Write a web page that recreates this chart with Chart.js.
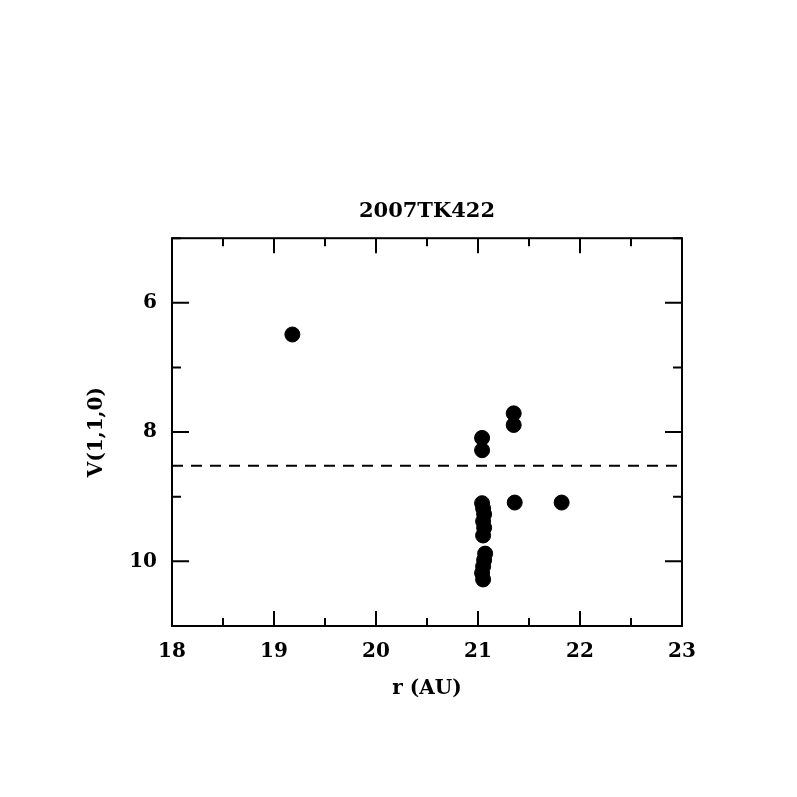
<!DOCTYPE html>
<html>
<head>
<meta charset="utf-8">
<script src="https://cdn.jsdelivr.net/npm/chart.js@4"></script>
<style>
  body { margin: 0; background: #fff; }
  #wrap { width: 797px; height: 797px; }
</style>
</head>
<body>
<div id="wrap"><canvas id="chart" width="797" height="797"></canvas></div>
<script>
// observations: heliocentric distance r (AU) vs V(1,1,0)
const rValues = [19.18, 21.04, 21.04, 21.35, 21.35, 21.36, 21.82,
  21.04, 21.05, 21.06, 21.05, 21.06, 21.05, 21.07, 21.06, 21.05, 21.04, 21.05];
const vValues = [6.49, 8.09, 8.28, 7.71, 7.89, 9.09, 9.09,
  9.1, 9.18, 9.27, 9.38, 9.48, 9.6, 9.88, 9.98, 10.08, 10.18, 10.28];
const meanV = 8.52;
const xTicks = [18, 19, 20, 21, 22, 23];
const yTicks = [6, 8, 10];
const xRange = [18, 23];
const yRange = [5, 11];

const fontFam = '"DejaVu Serif", serif';

const points = rValues.map((r, i) => ({ x: r, y: vValues[i] }));

// frame + inward ticks on all four sides
const framePlugin = {
  id: 'frame',
  afterDatasetsDraw(chart) {
    const { ctx, chartArea: a, scales: { x, y } } = chart;
    ctx.save();
    ctx.strokeStyle = '#000';
    ctx.lineWidth = 2;
    ctx.strokeRect(a.left, a.top, a.right - a.left, a.bottom - a.top);
    ctx.beginPath();
    for (let v = xRange[0]; v <= xRange[1]; v += 0.5) {
      const px = x.getPixelForValue(v);
      const len = Number.isInteger(v) ? 15 : 8;
      ctx.moveTo(px, a.bottom); ctx.lineTo(px, a.bottom - len);
      ctx.moveTo(px, a.top); ctx.lineTo(px, a.top + len);
    }
    for (let v = yRange[0]; v <= yRange[1]; v += 1) {
      const py = y.getPixelForValue(v);
      const len = v % 2 === 0 ? 17 : 9;
      ctx.moveTo(a.left, py); ctx.lineTo(a.left + len, py);
      ctx.moveTo(a.right, py); ctx.lineTo(a.right - len, py);
    }
    ctx.stroke();
    ctx.restore();
  }
};

new Chart(document.getElementById('chart'), {
  type: 'scatter',
  data: {
    datasets: [
      {
        data: points,
        backgroundColor: '#000',
        borderColor: '#000',
        pointRadius: 7.5,
        pointHoverRadius: 7.5
      },
      {
        type: 'line',
        data: [{ x: xRange[0], y: meanV }, { x: xRange[1], y: meanV }],
        borderColor: '#000',
        borderWidth: 2,
        borderDash: [11, 8],
        pointRadius: 0,
        fill: false
      }
    ]
  },
  options: {
    responsive: false,
    animation: false,
    layout: { padding: { left: 57, right: 0, top: 0, bottom: 0 } },
    plugins: {
      legend: { display: false },
      tooltip: { enabled: false },
      title: {
        display: true,
        text: '2007TK422',
        color: '#000',
        font: { family: fontFam, size: 21, weight: 'bold' },
        padding: { top: 199, bottom: 14 }
      }
    },
    scales: {
      x: {
        type: 'linear',
        min: xRange[0],
        max: xRange[1],
        afterBuildTicks: s => { s.ticks = xTicks.map(v => ({ value: v })); },
        afterFit: s => { s.height = 171; },
        grid: { display: false, drawTicks: false },
        border: { display: false },
        ticks: {
          color: '#000',
          padding: 14,
          maxRotation: 0,
          font: { family: fontFam, size: 20, weight: 'bold' }
        },
        title: {
          display: true,
          text: 'r (AU)',
          color: '#000',
          font: { family: fontFam, size: 20, weight: 'bold' },
          padding: { top: 0, bottom: 96 }
        }
      },
      y: {
        type: 'linear',
        reverse: true,
        min: yRange[0],
        max: yRange[1],
        afterBuildTicks: s => { s.ticks = yTicks.map(v => ({ value: v })); },
        afterFit: s => { s.width = 115; },
        grid: { display: false, drawTicks: false },
        border: { display: false },
        ticks: {
          color: '#000',
          padding: 15,
          font: { family: fontFam, size: 20, weight: 'bold' }
        },
        title: {
          display: true,
          text: 'V(1,1,0)',
          color: '#000',
          font: { family: fontFam, size: 20, weight: 'bold' },
          padding: { top: 28, bottom: 0 }
        }
      },
      yRight: {
        type: 'linear',
        position: 'right',
        reverse: true,
        min: yRange[0],
        max: yRange[1],
        afterFit: s => { s.width = 115; },
        grid: { display: false, drawTicks: false },
        border: { display: false },
        ticks: { display: false }
      }
    }
  },
  plugins: [framePlugin]
});
</script>
</body>
</html>
